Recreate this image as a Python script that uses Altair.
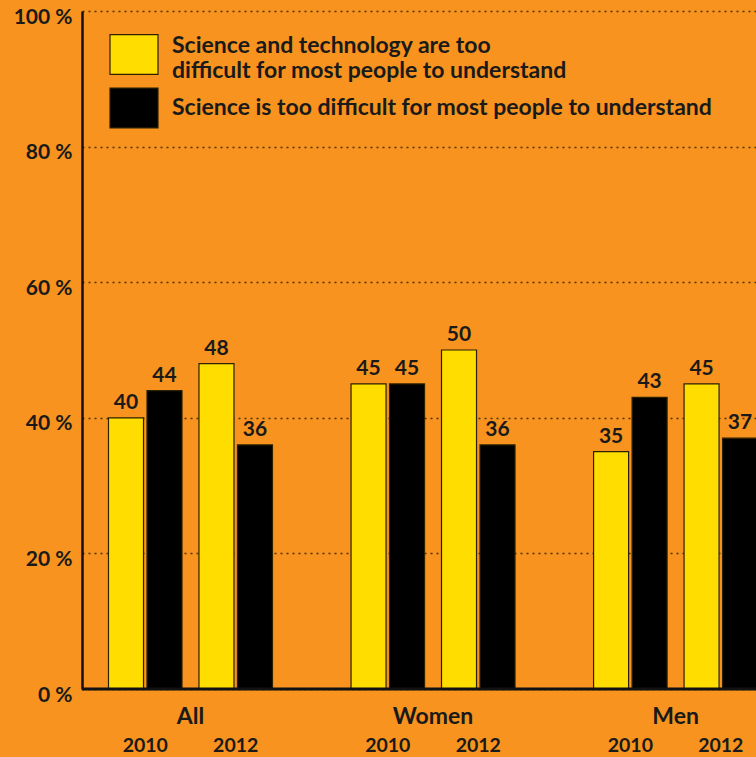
import altair as alt
import pandas as pd

# Share of respondents agreeing with each statement (%)
groups = ["All", "Women", "Men"]
years = ["2010", "2012"]
series = [
    "Science and technology are too\ndifficult for most people to understand",
    "Science is too difficult for most people to understand",
]
# order: All 2010, All 2012, Women 2010, Women 2012, Men 2010, Men 2012
sci_tech_values = [40, 48, 45, 50, 35, 45]
sci_values = [44, 36, 45, 36, 43, 37]

bar_colors = ["#FFDD00", "#000000"]
# legend swatches: the two-line entry's swatch sits lower, level with its text block
swatch_paths = ["M-1,-0.476H1V1.184H-1Z", "M-1,-0.83H1V0.83H-1Z"]
ink = "#1a1a1a"
edge = "#2b2100"
font = "Lato"

# horizontal layout in bar-width units
BAR_STEP = 1.0
YEAR_STEP = 2.35
GROUP_STEP = 6.3

rows = []
for gi, g in enumerate(groups):
    for yi, yr in enumerate(years):
        k = gi * len(years) + yi
        for si, vals in enumerate([sci_tech_values, sci_values]):
            rows.append({
                "group": g,
                "year": yr,
                "series": series[si],
                "value": vals[k],
                "pos": gi * GROUP_STEP + yi * YEAR_STEP + si * BAR_STEP,
            })
bars_df = pd.DataFrame(rows)

group_df = pd.DataFrame({
    "name": groups,
    "pos": [gi * GROUP_STEP + (YEAR_STEP + BAR_STEP) / 2 for gi in range(len(groups))],
})
year_df = pd.DataFrame([
    {"name": yr, "pos": gi * GROUP_STEP + yi * YEAR_STEP + BAR_STEP / 2}
    for gi in range(len(groups)) for yi, yr in enumerate(years)
])

W, H = 674, 678
x_scale = alt.Scale(domain=[-1.143, 16.364], nice=False, zero=False, padding=0)
y_scale = alt.Scale(domain=[0, 100], nice=False)

y_axis = alt.Axis(
    values=[0, 20, 40, 60, 80, 100],
    labelExpr="datum.value + ' %'",
    title=None,
    grid=True, gridDash=[2, 4], gridColor="#3d2a0a", gridWidth=1.4, gridOpacity=0.9,
    domain=True, domainColor="#111111", domainWidth=2.5,
    ticks=False,
    labelFont=font, labelFontSize=21, labelFontWeight="bold", labelColor=ink,
    labelPadding=10, labelOffset=6,
)

legend = alt.Legend(
    title=None, orient="none", legendX=27, legendY=10, direction="vertical",
    symbolSize=2304, symbolOpacity=1,
    symbolStrokeColor=edge, symbolStrokeWidth=1.2,
    labelFont=font, labelFontSize=23, labelFontWeight="bold", labelColor=ink,
    labelLimit=0, labelOffset=13, rowPadding=-5,
    labelExpr="split(datum.label, '\\n')",
)
color_enc = alt.Color("series:N", scale=alt.Scale(domain=series, range=bar_colors), legend=legend)
shape_enc = alt.Shape("series:N", scale=alt.Scale(domain=series, range=swatch_paths), legend=legend)
stroke_enc = alt.Stroke("series:N", scale=alt.Scale(domain=series, range=[edge, edge]), legend=legend)

base = alt.Chart(bars_df)

bars = base.mark_bar(orient="vertical", size=35, stroke=edge, strokeWidth=1.2).encode(
    x=alt.X("pos:Q", scale=x_scale, axis=None),
    y=alt.Y("value:Q", scale=y_scale, axis=y_axis),
    color=color_enc,
)

# carries the swatch shapes and outlines into the shared legend; not visible itself
legend_keys = base.mark_point(filled=True, opacity=0, strokeWidth=1.2).encode(
    x=alt.X("pos:Q", scale=x_scale, axis=None),
    y=alt.Y("value:Q", scale=y_scale),
    color=color_enc,
    shape=shape_enc,
    stroke=stroke_enc,
)

value_labels = base.mark_text(
    font=font, fontSize=21, fontWeight="bold", baseline="alphabetic", dy=-9, color=ink
).encode(
    x=alt.X("pos:Q", scale=x_scale, axis=None),
    y=alt.Y("value:Q", scale=y_scale),
    text="value:Q",
)

baseline = alt.Chart(pd.DataFrame({"value": [0]})).mark_rule(
    color="#111111", strokeWidth=3
).encode(y=alt.Y("value:Q", scale=y_scale))

group_labels = alt.Chart(group_df).mark_text(
    font=font, fontSize=23, fontWeight="bold", baseline="middle", color=ink
).encode(
    x=alt.X("pos:Q", scale=x_scale, axis=None),
    y=alt.value(H + 28),
    text="name:N",
)

year_labels = alt.Chart(year_df).mark_text(
    font=font, fontSize=19.5, fontWeight="bold", baseline="middle", color=ink
).encode(
    x=alt.X("pos:Q", scale=x_scale, axis=None),
    y=alt.value(H + 57),
    text="name:N",
)

chart = alt.layer(bars, legend_keys, baseline, value_labels, group_labels, year_labels).properties(
    width=W, height=H,
    autosize=alt.AutoSizeParams(type="none"),
    padding={"left": 82, "top": 11, "right": 0, "bottom": 68},
    background="#F7931E",
).configure_view(stroke=None)

chart.save("out.html", embed_options={"renderer": "svg", "actions": False})
